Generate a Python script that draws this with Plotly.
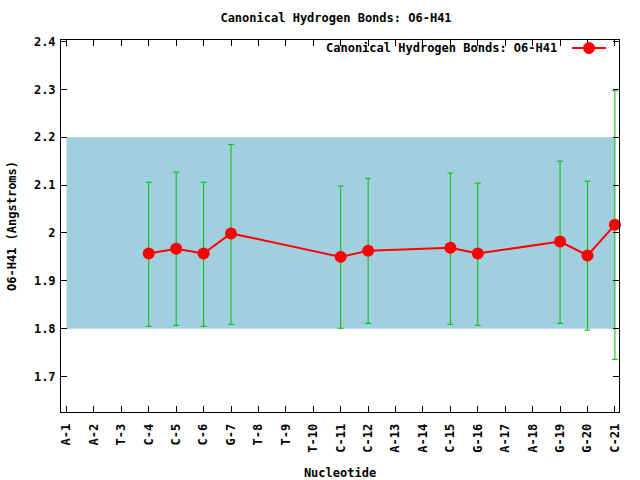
import plotly.graph_objects as go

nucleotides = ["A-1", "A-2", "T-3", "C-4", "C-5", "C-6", "G-7", "T-8", "T-9", "T-10",
               "C-11", "C-12", "A-13", "A-14", "C-15", "G-16", "A-17", "A-18", "G-19", "G-20", "C-21"]
present = ["C-4", "C-5", "C-6", "G-7", "C-11", "C-12", "C-15", "G-16", "G-19", "G-20", "C-21"]
means = [1.957, 1.967, 1.957, 1.999, 1.950, 1.963, 1.969, 1.957, 1.982, 1.953, 2.017]
err_hi = [0.149, 0.160, 0.149, 0.186, 0.148, 0.151, 0.156, 0.147, 0.168, 0.155, 0.280]
err_lo = [0.152, 0.160, 0.152, 0.190, 0.149, 0.152, 0.160, 0.150, 0.171, 0.156, 0.281]
band_lo, band_hi = 1.8, 2.2
y_ticks = [1.7, 1.8, 1.9, 2.0, 2.1, 2.2, 2.3, 2.4]
y_tick_text = ["1.7", "1.8", "1.9", "2", "2.1", "2.2", "2.3", "2.4"]
title = "Canonical Hydrogen Bonds: O6-H41"

xs = [nucleotides.index(p) for p in present]
FONT = dict(family="DejaVu Sans Mono", size=12, color="black")

fig = go.Figure()
fig.add_shape(type="rect", xref="x", yref="y", x0=0, x1=len(nucleotides) - 1,
              y0=band_lo, y1=band_hi, fillcolor="#a2cfdf", line=dict(width=0), layer="below")
fig.add_trace(go.Scatter(
    x=xs, y=means, mode="lines+markers", name=title,
    line=dict(color="#ff0000", width=2),
    marker=dict(color="#ff0000", size=12, symbol="circle"),
    error_y=dict(type="data", symmetric=False, array=err_hi, arrayminus=err_lo,
                 color="#00c000", thickness=1, width=3),
    cliponaxis=False,
    showlegend=False,
))

L, R, T, B = 61, 21, 40, 68
W, H = 640 - L - R, 480 - T - B

fig.update_layout(
    width=640, height=480,
    margin=dict(l=L, r=R, t=T, b=B, pad=0, autoexpand=False),
    plot_bgcolor="white", paper_bgcolor="white",
    font=FONT,
    title=dict(text="<b>" + title + "</b>", x=336 / 640, xanchor="center", y=1 - 18 / 480,
               yanchor="middle", font=FONT),
    xaxis=dict(range=[-0.2, 20.15], tickmode="array", tickvals=list(range(len(nucleotides))),
               ticktext=["<b>" + n + "</b>" for n in nucleotides], tickangle=-90,
               ticks="inside", ticklen=6, tickcolor="black", showline=True, linecolor="black",
               linewidth=1, mirror="allticks", showgrid=False, zeroline=False,
               ticklabelstandoff=6, tickfont=FONT,
               title=dict(text="<b>Nucleotide</b>", standoff=17, font=FONT)),
    yaxis=dict(range=[1.626, 2.403], tickmode="array", tickvals=y_ticks,
               ticktext=["<b>" + t + "</b>" for t in y_tick_text],
               ticks="inside", ticklen=6, tickcolor="black", showline=True, linecolor="black",
               linewidth=1, mirror="allticks", showgrid=False, zeroline=False,
               ticklabelstandoff=2, tickfont=FONT,
               title=dict(text="<b>O6-H41 (Angstroms)</b>", standoff=14, font=FONT)),
)

# legend (gnuplot style: text, then sample on the right)
def px(xp):
    return (xp - L) / W

def py(yp):
    return (480 - B - yp) / H

fig.add_annotation(text="<b>" + title + "</b>", xref="paper", yref="paper",
                   x=px(559), y=py(48), xanchor="right", yanchor="middle", showarrow=False,
                   font=FONT)
fig.add_shape(type="line", xref="paper", yref="paper", x0=px(572), x1=px(606),
              y0=py(48), y1=py(48), line=dict(color="#ff0000", width=2))
fig.add_shape(type="circle", xref="paper", yref="paper", x0=px(583.5), x1=px(594.5),
              y0=py(53.5), y1=py(42.5), fillcolor="#ff0000", line=dict(color="#ff0000", width=1))

fig.write_html("out.html", config={"displayModeBar": False},
               post_script="document.body.style.margin='0px';document.body.style.overflow='hidden';")
